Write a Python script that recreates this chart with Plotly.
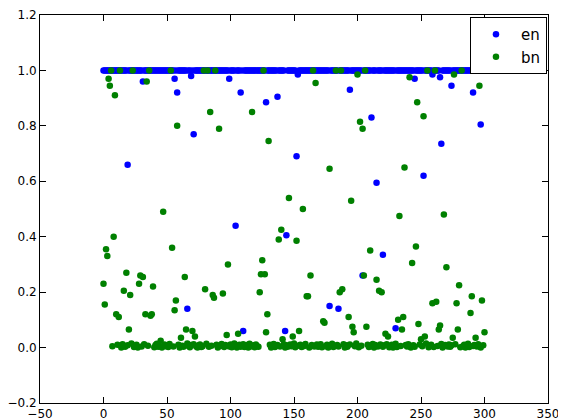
import plotly.graph_objects as go

# index of each sample
idx = list(range(301))

# en: almost always 1.0, these are the samples that drop below
en_out_x = [19, 31, 56, 58, 66, 69, 71, 99, 104, 108, 110, 128, 137, 143, 144, 152, 153,
            178, 185, 194, 204, 211, 215, 220, 230, 245, 252, 259, 265, 266, 274, 291, 297]
en_out_y = [0.66, 0.96, 0.97, 0.92, 0.14, 0.98, 0.77, 0.97, 0.44, 0.92, 0.06, 0.885, 0.905, 0.06, 0.405, 0.69, 0.985,
            0.15, 0.14, 0.93, 0.26, 0.83, 0.595, 0.335, 0.07, 0.97, 0.62, 0.985, 0.975, 0.735, 0.945, 0.92, 0.805]

# bn: values clearly away from the zero band
bn_hi_x = [0, 1, 2, 3, 4, 5, 6, 8, 9, 10, 12, 13, 16, 18, 20, 21, 23, 28, 29, 31, 33, 34, 36, 37, 38, 39,
           45, 47, 53, 54, 56, 57, 58, 61, 64, 65, 70, 72, 79, 80, 82, 84, 86, 87, 88, 91, 94, 97, 98,
           106, 117, 123, 124, 125, 126, 127, 128, 129, 130, 138, 140, 141, 146, 149, 152, 154, 157,
           160, 161, 163, 165, 167, 173, 174, 178, 183, 186, 187, 188, 193, 195, 196, 197, 200, 202,
           204, 205, 206, 207, 210, 215, 217, 219, 222, 224, 232, 233, 235, 236, 237, 241, 243, 246,
           247, 248, 250, 252, 253, 255, 259, 261, 262, 264, 265, 268, 270, 275, 276, 278, 279, 280,
           282, 289, 290, 293, 296, 298, 300]
bn_hi_y = [0.23, 0.155, 0.355, 0.33, 0.97, 0.945, 1.0, 0.40, 0.91, 0.12, 0.11, 1.0, 0.205, 0.27, 0.065, 0.19,
           1.0, 0.23, 0.26, 0.255, 0.12, 0.96, 1.0, 0.115, 0.12, 0.22, 0.025, 0.49, 1.0, 0.36, 0.135, 0.17,
           0.80, 0.035, 0.255, 0.065, 0.06, 0.04, 1.0, 0.21, 1.0, 0.85, 0.19, 0.18, 1.0, 0.79, 0.195, 0.045,
           0.30, 0.05, 0.85, 0.20, 0.265, 0.315, 1.0, 0.265, 0.055, 0.12, 0.745, 0.39, 0.425, 0.03, 0.54,
           0.04, 0.385, 0.06, 0.50, 0.185, 0.185, 0.26, 1.0, 0.955, 0.095, 0.09, 0.645, 1.0, 0.20, 1.0, 0.21,
           0.11, 0.53, 0.075, 0.055, 0.985, 0.815, 0.79, 0.26, 1.0, 0.075, 0.35, 0.245, 0.205, 0.20, 0.05,
           0.04, 0.10, 0.475, 0.065, 0.11, 0.65, 0.975, 0.305, 0.365, 0.885, 0.085, 0.03, 0.835, 0.04, 1.0,
           0.16, 1.0, 0.165, 0.065, 0.08, 0.48, 0.29, 0.035, 0.985, 0.16, 0.065, 0.225, 1.0, 0.125, 0.185,
           0.035, 0.945, 0.17, 0.055]

# bn: small values hugging zero for the remaining samples
bn_low_vals = [0.005, 0.01, 0.0, 0.012, 0.003, 0.008, 0.015, 0.002, 0.006, 0.01, 0.0, 0.004, 0.012, 0.007, 0.001,
               0.009, 0.014, 0.003, 0.006, 0.0, 0.011, 0.005, 0.008, 0.002, 0.013, 0.004, 0.01, 0.0, 0.007, 0.003,
               0.015, 0.006, 0.001, 0.009, 0.012, 0.004, 0.0, 0.008, 0.011, 0.002, 0.005, 0.014, 0.003, 0.007, 0.01,
               0.0, 0.006, 0.013, 0.002, 0.009, 0.004, 0.011, 0.001, 0.008, 0.015, 0.005, 0.0, 0.01, 0.003, 0.007,
               0.012, 0.002, 0.006, 0.009, 0.0, 0.014, 0.004, 0.008, 0.001, 0.011, 0.005, 0.003, 0.01, 0.0, 0.007,
               0.013, 0.002, 0.006, 0.009, 0.004, 0.012, 0.0, 0.008, 0.003, 0.011, 0.005, 0.015, 0.001, 0.007, 0.01,
               0.002, 0.006, 0.013, 0.0, 0.009, 0.004, 0.011, 0.003, 0.008, 0.012, 0.001, 0.005, 0.01, 0.0, 0.007,
               0.014, 0.002, 0.006, 0.009, 0.004, 0.012, 0.0, 0.008, 0.003, 0.011, 0.005, 0.015, 0.001, 0.007, 0.01,
               0.002, 0.006, 0.013, 0.0, 0.009, 0.004, 0.011, 0.003, 0.008, 0.012, 0.001, 0.005, 0.01, 0.0, 0.007,
               0.014, 0.002, 0.006, 0.009, 0.004, 0.012, 0.0, 0.008, 0.003, 0.011, 0.005, 0.015, 0.001, 0.007, 0.01,
               0.002, 0.006, 0.013, 0.0, 0.009, 0.004, 0.011, 0.003, 0.008, 0.012, 0.001, 0.005, 0.01, 0.0, 0.007,
               0.014, 0.002, 0.006, 0.009, 0.004, 0.012, 0.0, 0.008, 0.003, 0.011, 0.005]

en_map = dict(zip(en_out_x, en_out_y))
en_y = [en_map.get(i, 1.0) for i in idx]

bn_low_x = [i for i in idx if i not in bn_hi_x]
bn_low_y = bn_low_vals[:len(bn_low_x)]
bn_low_x = bn_low_x[:len(bn_low_y)]
bn_x = bn_hi_x + bn_low_x
bn_y = bn_hi_y + bn_low_y

fig = go.Figure()
fig.add_trace(go.Scatter(x=idx, y=en_y, mode='markers', name='en',
                         marker=dict(color='#0000ff', size=6.5, line=dict(width=0))))
fig.add_trace(go.Scatter(x=bn_x, y=bn_y, mode='markers', name='bn',
                         marker=dict(color='#008000', size=6.5, line=dict(width=0))))

axis = dict(showgrid=False, zeroline=False, showline=True, linecolor='black', linewidth=1,
            mirror='ticks', ticks='inside', ticklen=6, tickcolor='black', automargin=False)

# the page adds an 8px body margin, so the figure is a bit smaller than the window
fig.update_layout(
    width=558, height=412,
    paper_bgcolor='white', plot_bgcolor='white',
    font=dict(family='DejaVu Sans', size=12, color='black'),
    margin=dict(l=32, r=18, t=7, b=17),
    xaxis=dict(axis, range=[-50, 350], dtick=50),
    yaxis=dict(axis, range=[-0.2, 1.2], dtick=0.2, tickformat='.1f'),
    legend=dict(x=0.998, y=0.995, xanchor='right', yanchor='top', bordercolor='black', borderwidth=1,
                bgcolor='white', font=dict(size=15), itemwidth=40),
    showlegend=True,
)

fig.write_html("out.html")
